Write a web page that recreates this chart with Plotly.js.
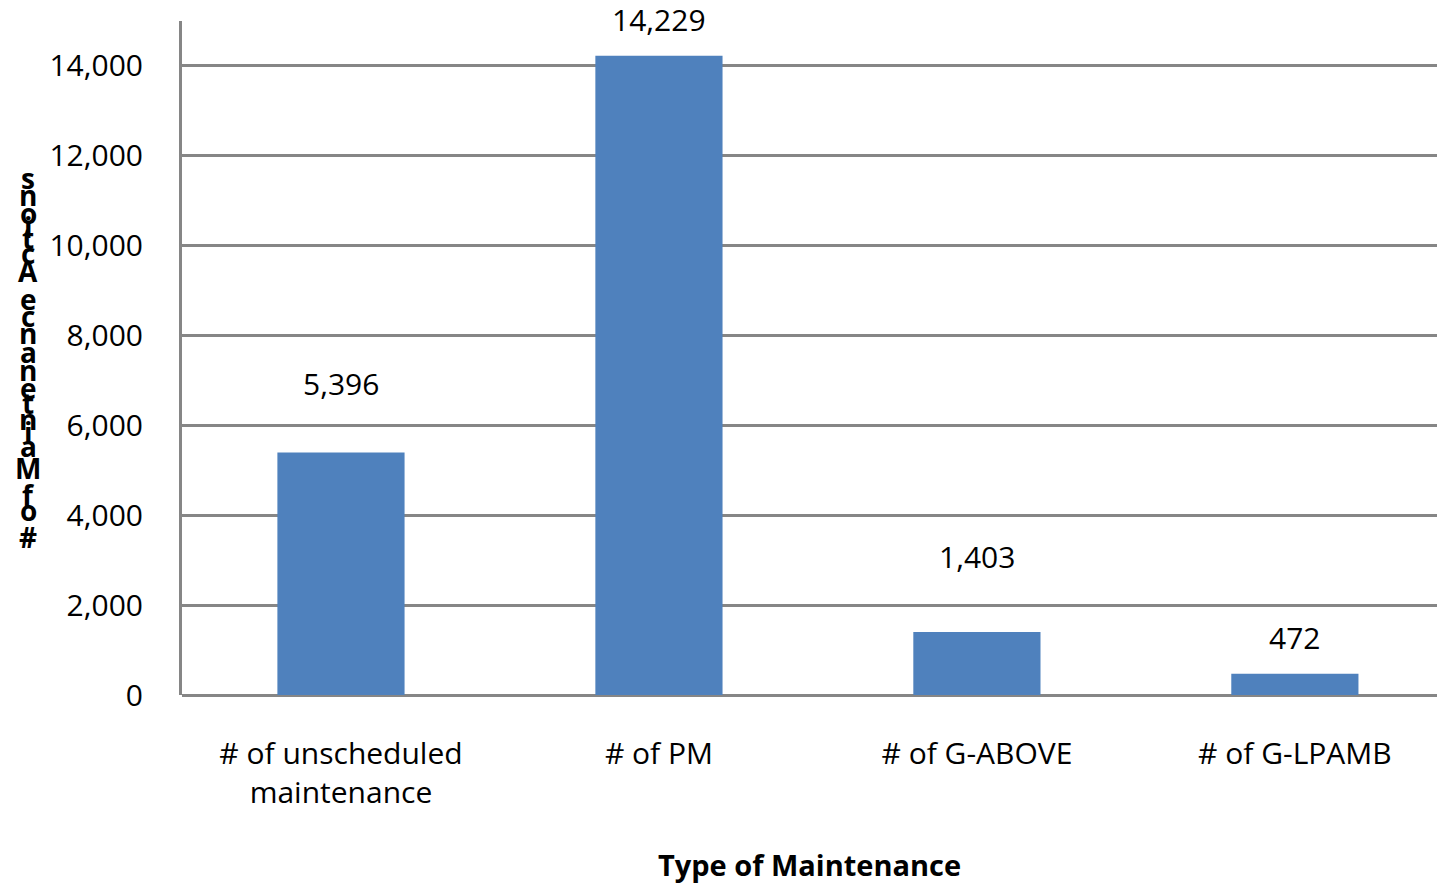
<!DOCTYPE html>
<html>
<head>
<meta charset="utf-8">
<script src="https://cdn.plot.ly/plotly-3.0.1.min.js"></script>
<style>html,body{margin:0;padding:0;overflow:hidden;background:#fff;}</style>
</head>
<body>
<div id="chart" style="width:1437px;height:884px;"></div>
<script>
const categories = ["# of unscheduled<br>maintenance", "# of PM", "# of G-ABOVE", "# of G-LPAMB"];
const values = [5396, 14229, 1403, 472];
const valueLabels = ["5,396", "14,229", "1,403", "472"];
const yTickVals = [0, 2000, 4000, 6000, 8000, 10000, 12000, 14000];
const yTitle = "# of Maintenance Actions";
const xTitle = "Type of Maintenance";

// layout-only offsets for the value labels (pixels above bar top)
const labelShift = [69, 36, 75, 36];

const W = 1437, H = 884;
const mL = 182, mR = 0, mT = 21, mB = 189;
const plotH = H - mT - mB;
const FONT = "Open Sans, Liberation Sans, sans-serif";

const annotations = [];
categories.forEach((c, i) => {
  annotations.push({
    x: c, y: values[i], xref: 'x', yref: 'y',
    text: valueLabels[i], showarrow: false,
    yanchor: 'middle', yshift: labelShift[i],
    font: {family: FONT, size: 30, color: '#000'}
  });
});

// stacked upright letters of the y-axis title (bottom to top)
const weights = {'i':0.5,'t':0.7,'f':0.6,' ':0.5,'M':1.4,'A':1.1,'c':0.9,'s':0.9};
const chars = yTitle.split('');
let cum = 0; const centers = [];
chars.forEach(ch => { const w = weights[ch] !== undefined ? weights[ch] : 1; centers.push(cum + w/2); cum += w; });
const bottomPx = 537, topPx = 178;
const span = centers[centers.length-1] - centers[0];
chars.forEach((ch, i) => {
  if (ch === ' ') return;
  const py = bottomPx - (centers[i] - centers[0]) / span * (bottomPx - topPx);
  annotations.push({
    xref: 'paper', yref: 'paper',
    x: (28 - mL) / (W - mL - mR), y: (H - mB - py) / plotH,
    xanchor: 'center', yanchor: 'middle',
    text: '<b>' + ch + '</b>', showarrow: false,
    font: {family: FONT, size: 28, color: '#000'}
  });
});

const trace = {
  type: 'bar', x: categories, y: values,
  marker: {color: '#4F81BD'},
  hoverinfo: 'skip'
};

const layout = {
  width: W, height: H,
  margin: {l: mL, r: mR, t: mT, b: mB, pad: 0},
  paper_bgcolor: '#fff', plot_bgcolor: '#fff',
  bargap: 0.6,
  showlegend: false,
  xaxis: {
    type: 'category',
    range: [-0.5, 3.447],
    showgrid: false, zeroline: false,
    showline: false,
    ticks: '', ticklabelstandoff: 38,
    tickfont: {family: FONT, size: 30, color: '#000'},
    title: {text: '<b>' + xTitle + '</b>', font: {family: FONT, size: 29, color: '#000'}, standoff: 50}
  },
  yaxis: {
    range: [0, 15000],
    tickvals: yTickVals, tickformat: ',d',
    showgrid: true, gridcolor: '#868686', gridwidth: 3,
    zeroline: true, zerolinecolor: '#868686', zerolinewidth: 3,
    showline: true, linecolor: '#868686', linewidth: 3,
    ticks: '', ticklabelstandoff: 30,
    tickfont: {family: FONT, size: 30, color: '#000'}
  },
  annotations: annotations
};

Plotly.newPlot('chart', [trace], layout, {displayModeBar: false, staticPlot: true});
</script>
</body>
</html>
